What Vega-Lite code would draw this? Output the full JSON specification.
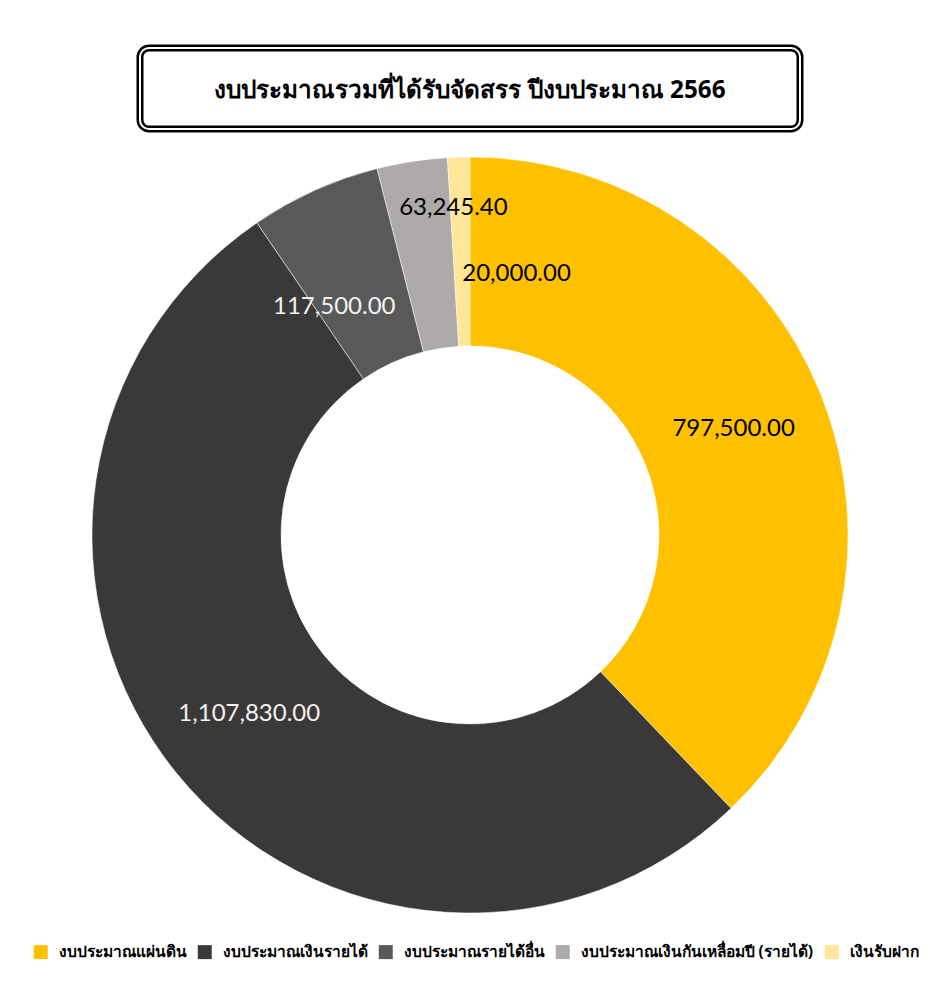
{
  "$schema": "https://vega.github.io/schema/vega-lite/v6.json",
  "padding": {"left": 33, "top": 44, "right": 0, "bottom": 0},
  "bounds": "flush",
  "center": true,
  "spacing": 28,
  "background": "white",
  "config": {"view": {"stroke": null}, "font": "Noto Sans"},
  "datasets": {
    "budget": [
      {"cat": "งบประมาณแผ่นดิน", "value": 797500, "idx": 1},
      {"cat": "งบประมาณเงินรายได้", "value": 1107830, "idx": 2},
      {"cat": "งบประมาณรายได้อื่น", "value": 117500, "idx": 3},
      {"cat": "งบประมาณเงินกันเหลื่อมปี (รายได้)", "value": 63245.4, "idx": 4},
      {"cat": "เงินรับฝาก", "value": 20000, "idx": 5}
    ]
  },
  "vconcat": [
    {
      "width": 660,
      "height": 81,
      "data": {"values": [{"t": "งบประมาณรวมที่ได้รับจัดสรร ปีงบประมาณ 2566"}]},
      "layer": [
        {"mark": {"type": "rect", "filled": false, "color": "black", "strokeWidth": 7, "cornerRadius": 9}, "encoding": {}},
        {"mark": {"type": "rect", "filled": false, "color": "white", "strokeWidth": 2, "cornerRadius": 9}, "encoding": {}},
        {"mark": {"type": "text", "fontSize": 24.3, "fontWeight": "bold", "align": "center", "baseline": "middle", "color": "black", "dy": 2}, "encoding": {"text": {"field": "t"}}}
      ]
    },
    {
      "width": 874,
      "height": 756,
      "data": {"name": "budget"},
      "encoding": {
        "theta": {"field": "value", "type": "quantitative", "stack": true},
        "order": {"field": "idx", "type": "quantitative"}
      },
      "layer": [
        {
          "mark": {"type": "arc", "outerRadius": 378, "innerRadius": 189, "stroke": "white", "strokeWidth": 0.5},
          "encoding": {
            "color": {
              "field": "cat", "type": "nominal",
              "scale": {
                "domain": ["งบประมาณแผ่นดิน", "งบประมาณเงินรายได้", "งบประมาณรายได้อื่น", "งบประมาณเงินกันเหลื่อมปี (รายได้)", "เงินรับฝาก"],
                "range": ["#FFC000", "#3B3938", "#595959", "#AEAAAA", "#FFE699"]
              },
              "legend": {
                "orient": "none", "legendX": 0, "legendY": 896,
                "direction": "horizontal", "columns": 5, "title": null,
                "symbolType": "square", "symbolSize": 196, "symbolStrokeWidth": 0,
                "labelFontSize": 15.5, "labelFontWeight": "bold", "labelColor": "black",
                "labelOffset": 10, "columnPadding": 10, "labelLimit": 400, "padding": 0
              }
            }
          }
        },
        {
          "mark": {"type": "text", "radius": 284, "fontSize": 24, "font": "Lato", "align": "center", "baseline": "middle", "color": "black"},
          "encoding": {"text": {"condition": {"test": "datum.idx == 1", "field": "value", "format": ",.2f"}, "value": ""}}
        },
        {
          "mark": {"type": "text", "radius": 284, "fontSize": 24, "font": "Lato", "align": "center", "baseline": "middle", "color": "#F2F2F2"},
          "encoding": {"text": {"condition": {"test": "datum.idx == 2", "field": "value", "format": ",.2f"}, "value": ""}}
        },
        {
          "mark": {"type": "text", "radius": 284, "fontSize": 24, "font": "Lato", "align": "center", "baseline": "middle", "color": "#F2F2F2", "dx": -19, "dy": 31},
          "encoding": {"text": {"condition": {"test": "datum.idx == 3", "field": "value", "format": ",.2f"}, "value": ""}}
        },
        {
          "mark": {"type": "text", "radius": 284, "fontSize": 24, "font": "Lato", "align": "center", "baseline": "middle", "color": "black", "dx": 27, "dy": -46},
          "encoding": {"text": {"condition": {"test": "datum.idx == 4", "field": "value", "format": ",.2f"}, "value": ""}}
        },
        {
          "mark": {"type": "text", "radius": 284, "fontSize": 24, "font": "Lato", "align": "center", "baseline": "middle", "color": "black", "dx": 55, "dy": 23},
          "encoding": {"text": {"condition": {"test": "datum.idx == 5", "field": "value", "format": ",.2f"}, "value": ""}}
        }
      ]
    }
  ]
}
